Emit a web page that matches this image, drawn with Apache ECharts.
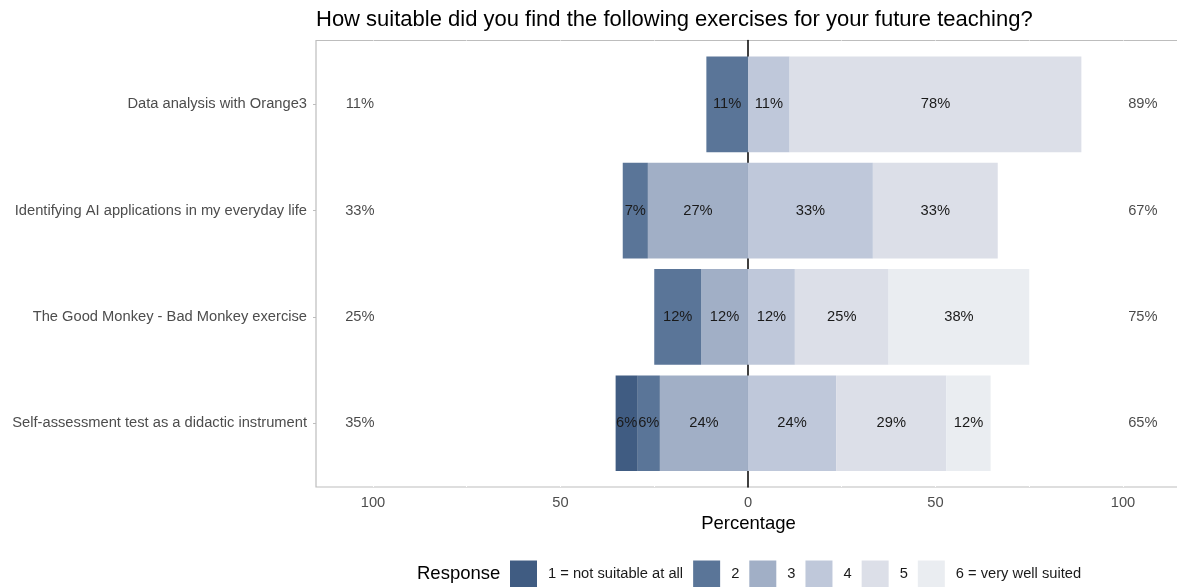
<!DOCTYPE html>
<html><head><meta charset="utf-8">
<script src="https://cdn.jsdelivr.net/npm/echarts@6/dist/echarts.min.js"></script>
<style>html,body{margin:0;padding:0;background:#fff}#c{width:1177px;height:587px}</style>
</head><body><div id="c"></div>
<script>
// Categories, top to bottom
const categories = [
  'Data analysis with Orange3',
  'Identifying AI applications in my everyday life',
  'The Good Monkey - Bad Monkey exercise',
  'Self-assessment test as a didactic instrument'
];
const levels = ['1 = not suitable at all', '2', '3', '4', '5', '6 = very well suited'];
// Percent of responses per level, one value per category (same order as categories)
const resp1 = [0, 0, 0, 5.9];
const resp2 = [11.1, 6.7, 12.5, 5.9];
const resp3 = [0, 26.7, 12.5, 23.5];
const resp4 = [11.1, 33.3, 12.5, 23.5];
const resp5 = [77.8, 33.3, 25, 29.4];
const resp6 = [0, 0, 37.5, 11.8];
const tickValues = [-100, -50, 0, 50, 100];
const gridValues = [-100, -75, -50, -25, 25, 50, 75, 100];
const colors = ['#405c82', '#5a7598', '#a1afc6', '#bfc8da', '#dcdfe8', '#eaedf1'];

const respAll = [resp1, resp2, resp3, resp4, resp5, resp6];
function roundEven(v) {
  const f = Math.floor(v), d = v - f;
  if (Math.abs(d - 0.5) < 1e-9) return (f % 2 === 0) ? f : f + 1;
  return Math.round(v);
}
const leftTotals = categories.map((c, i) => resp1[i] + resp2[i] + resp3[i]);
const rightTotals = categories.map((c, i) => resp4[i] + resp5[i] + resp6[i]);

const FONT = 'Liberation Sans, Arial, sans-serif';
const FS = 14.7;
const XMIN = -115.2, XMAX = 115.47;
const PANEL_L = 316, PANEL_T = 40.5, PANEL_W = 865, PANEL_H = 446.5;
const unit = PANEL_H / 4.2;

const barLabel = {
  show: true, position: 'inside', fontSize: FS, color: '#1a1a1a', fontFamily: FONT,
  formatter: p => { const v = Math.abs(p.value); return v > 0 ? roundEven(v) + '%' : ''; }
};

// Stack order: negatives 3,2,1 (3 next to zero), positives 4,5,6
const order = [2, 1, 0, 3, 4, 5];
const barSeries = order.map(k => ({
  name: levels[k], type: 'bar', stack: 'likert',
  xAxisIndex: 0, yAxisIndex: 0,
  barWidth: unit * 0.9,
  itemStyle: { color: colors[k] },
  label: barLabel,
  emphasis: { disabled: true },
  data: respAll[k].map(v => k < 3 ? -v : v)
}));

const sideLabel = {
  show: true, position: 'inside', fontSize: FS, color: '#1a1a1a', fontFamily: FONT,
  formatter: p => roundEven(p.value[2]) + '%'
};

const option = {
  animation: false,
  backgroundColor: '#fff',
  textStyle: { fontFamily: FONT },
  title: {
    text: 'How suitable did you find the following exercises for your future teaching?',
    left: 311, top: 4,
    textStyle: { fontSize: 22, fontWeight: 'normal', color: '#000', fontFamily: FONT }
  },
  legend: {
    data: levels, left: 505, top: 555.5, orient: 'horizontal',
    icon: 'rect', itemWidth: 27, itemHeight: 27, itemGap: 10,
    selectedMode: false,
    textStyle: { fontSize: FS, color: '#1a1a1a', padding: [0, 0, 0, 6], fontFamily: FONT }
  },
  graphic: [{
    type: 'text', left: 417, top: 564.5,
    style: { text: 'Response', fontSize: 18.5, fill: '#000', fontFamily: FONT }
  }],
  grid: [
    { left: PANEL_L, width: PANEL_W, top: PANEL_T + 0.1 * unit, height: 4 * unit, show: false,
      containLabel: false, outerBoundsMode: 'none' },
    { left: PANEL_L, width: PANEL_W, top: PANEL_T, height: PANEL_H, show: true,
      borderColor: '#bdbdbd', borderWidth: 1.2, backgroundColor: 'transparent',
      containLabel: false, outerBoundsMode: 'none' }
  ],
  xAxis: [
    { type: 'value', gridIndex: 0, min: XMIN, max: XMAX, show: false },
    { type: 'value', gridIndex: 1, min: XMIN, max: XMAX,
      axisLine: { show: false }, axisTick: { show: false, customValues: gridValues },
      splitLine: { show: true, lineStyle: { color: '#ffffff', width: 1 } },
      axisLabel: { customValues: tickValues, color: '#4d4d4d', fontSize: FS, margin: 8,
        formatter: v => String(Math.abs(v)) },
      name: 'Percentage', nameLocation: 'middle', nameGap: 26,
      nameTextStyle: { fontSize: 18.5, color: '#000' }
    }
  ],
  yAxis: [
    { type: 'category', gridIndex: 0, data: categories, inverse: true,
      axisLine: { show: false, onZero: false },
      axisTick: { show: true, length: 3, alignWithLabel: true, lineStyle: { color: '#bdbdbd' } },
      axisLabel: { color: '#4d4d4d', fontSize: FS, margin: 9 },
      splitLine: { show: false }
    },
    { type: 'value', gridIndex: 1, min: 0, max: 1, axisLabel: { show: false },
      axisTick: { show: false }, splitLine: { show: false },
      axisLine: { show: true, onZero: true, lineStyle: { color: '#000', width: 1.5 } }
    }
  ],
  series: barSeries.concat([
    { type: 'scatter', xAxisIndex: 0, yAxisIndex: 0, symbolSize: 1,
      itemStyle: { color: 'transparent' }, silent: true, label: sideLabel,
      data: categories.map((c, i) => [-103.5, i, leftTotals[i]]) },
    { type: 'scatter', xAxisIndex: 0, yAxisIndex: 0, symbolSize: 1,
      itemStyle: { color: 'transparent' }, silent: true, label: sideLabel,
      data: categories.map((c, i) => [105.3, i, rightTotals[i]]) }
  ])
};
echarts.init(document.getElementById('c')).setOption(option);
</script></body></html>
